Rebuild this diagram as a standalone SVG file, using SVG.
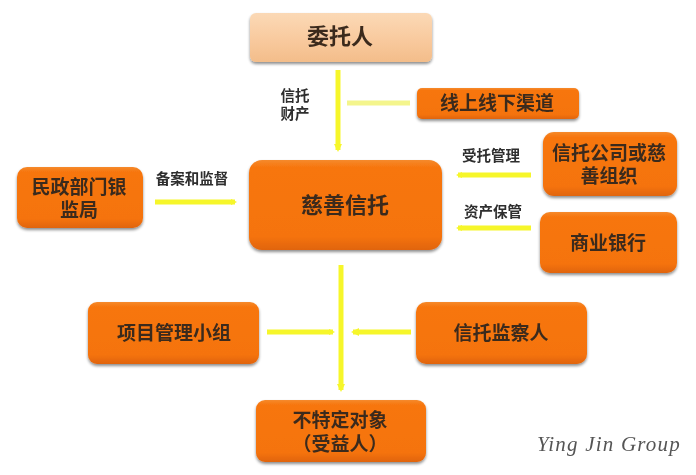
<svg xmlns="http://www.w3.org/2000/svg" width="696" height="475" viewBox="0 0 696 475">
<defs>
<linearGradient id="o" x1="0" y1="0" x2="0" y2="1"><stop offset="0" stop-color="#f58a2c"/><stop offset="0.08" stop-color="#f7760f"/><stop offset="0.85" stop-color="#f5730c"/><stop offset="1" stop-color="#e0640a"/></linearGradient>
<linearGradient id="p" x1="0" y1="0" x2="0" y2="1"><stop offset="0" stop-color="#fbd9b6"/><stop offset="0.5" stop-color="#f9cba0"/><stop offset="1" stop-color="#f3bd8a"/></linearGradient>
<filter id="s" x="-10%" y="-15%" width="120%" height="130%"><feGaussianBlur in="SourceAlpha" stdDeviation="1.5"/><feOffset dy="1.5"/><feComponentTransfer><feFuncA type="linear" slope="0.45"/></feComponentTransfer><feMerge><feMergeNode/><feMergeNode in="SourceGraphic"/></feMerge></filter>
<filter id="b" filterUnits="userSpaceOnUse" x="0" y="0" width="696" height="475"><feGaussianBlur stdDeviation="0.5"/></filter>
<marker id="a" viewBox="0 0 8 8" refX="6" refY="4" markerWidth="8" markerHeight="8" markerUnits="userSpaceOnUse" orient="auto"><path d="M0 0L8 4L0 8Z" fill="#f6f62c"/></marker>
<marker id="h" viewBox="0 0 6 6" refX="4" refY="3" markerWidth="6" markerHeight="6" markerUnits="userSpaceOnUse" orient="auto"><path d="M0 0L6 3L0 6Z" fill="#f6f62c"/></marker>
</defs>
<style>
.n{fill:url(#o);filter:url(#s)}
.p{fill:url(#p);filter:url(#s)}
.c{stroke:#f6f62c;stroke-width:5;fill:none;filter:url(#b)}
.t{font-family:"Liberation Sans","Noto Sans CJK SC",sans-serif;font-weight:700;fill:#3a2a1e;text-anchor:middle;filter:url(#b)}
.l{font-family:"Liberation Sans","Noto Sans CJK SC",sans-serif;font-weight:700;font-size:14.5px;fill:#2e2e2e;text-anchor:middle;filter:url(#b)}
.m{font-size:19px}
</style>
<rect width="696" height="475" fill="#fff"/>
<g id="connectors">
<path class="c" d="M338 70V150" marker-end="url(#a)"/>
<path class="c" d="M347 103H410" style="stroke:#f4f58c"/>
<path class="c" d="M531 175H458" marker-end="url(#h)"/>
<path class="c" d="M531 228H458" marker-end="url(#h)"/>
<path class="c" d="M155 202H235" marker-end="url(#h)"/>
<path class="c" d="M341 265V390" marker-end="url(#a)"/>
<path class="c" d="M267 332H333" marker-end="url(#h)"/>
<path class="c" d="M411 332H353" marker-end="url(#a)"/>
</g>
<g id="node-weituoren"><rect class="p" x="250" y="13" width="182" height="49" rx="6"/><text class="t" x="340" y="44" font-size="22">委托人</text></g>
<g id="node-qudao"><rect class="n" x="417" y="88" width="162" height="31" rx="5"/><text class="t m" x="497" y="110">线上线下渠道</text></g>
<g id="node-xintuo-gongsi"><rect class="n" x="543" y="132" width="134" height="64" rx="11"/><text class="t m"><tspan x="609" y="160">信托公司或慈</tspan><tspan x="609" y="183">善组织</tspan></text></g>
<g id="node-yinhang"><rect class="n" x="540" y="212" width="137" height="61" rx="10"/><text class="t m" x="608" y="250">商业银行</text></g>
<g id="node-cishan"><rect class="n" x="249" y="160" width="193" height="90" rx="13"/><text class="t" x="345" y="213" font-size="22">慈善信托</text></g>
<g id="node-minzheng"><rect class="n" x="17" y="167" width="126" height="61" rx="10"/><text class="t m"><tspan x="79" y="194">民政部门银</tspan><tspan x="79" y="217">监局</tspan></text></g>
<g id="node-xiangmu"><rect class="n" x="88" y="302" width="171" height="62" rx="9"/><text class="t m" x="174" y="340">项目管理小组</text></g>
<g id="node-jiancha"><rect class="n" x="416" y="302" width="171" height="62" rx="10"/><text class="t m" x="501" y="340">信托监察人</text></g>
<g id="node-shouyi"><rect class="n" x="256" y="400" width="170" height="62" rx="9"/><text class="t m"><tspan x="340" y="427">不特定对象</tspan><tspan x="340" y="451">（受益人）</tspan></text></g>
<text class="l"><tspan x="295" y="101">信托</tspan><tspan x="295" y="119">财产</tspan></text>
<text class="l" x="491" y="161">受托管理</text>
<text class="l" x="493" y="217">资产保管</text>
<text class="l" x="192" y="184">备案和监督</text>
<text x="537" y="451" font-family="'Liberation Serif',serif" font-style="italic" font-size="21" letter-spacing="1.2" fill="#555" filter="url(#b)">Ying Jin Group</text>
</svg>
